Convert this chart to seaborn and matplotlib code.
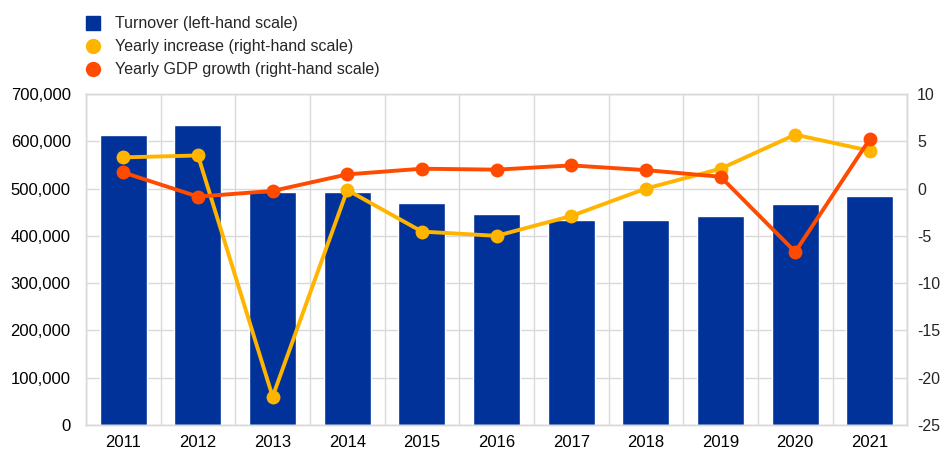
import matplotlib
matplotlib.use("Agg")
import matplotlib.pyplot as plt
import seaborn as sns
import numpy as np
import pandas as pd
from matplotlib.lines import Line2D
from matplotlib.ticker import FuncFormatter, FixedLocator

years = ["2011", "2012", "2013", "2014", "2015", "2016", "2017", "2018", "2019", "2020", "2021"]
turnover = [613000, 634000, 493000, 493000, 469000, 446000, 433000, 433000, 442000, 467000, 484000]
yearly_increase = [3.3, 3.5, -22.0, -0.15, -4.55, -5.0, -2.9, 0.0, 2.1, 5.7, 4.0]
gdp_growth = [1.7, -0.85, -0.25, 1.5, 2.1, 2.0, 2.45, 1.95, 1.25, -6.7, 5.25]

labels = ["Turnover (left-hand scale)", "Yearly increase (right-hand scale)",
          "Yearly GDP growth (right-hand scale)"]

BLUE = "#003299"
YELLOW = "#FFB400"
RED = "#FF4B00"
GRID = "#d9d9d9"

sns.set_style("white")
plt.rcParams["font.family"] = ["Liberation Sans", "DejaVu Sans"]
plt.rcParams["axes.unicode_minus"] = False

df = pd.DataFrame({"year": years, "turnover": turnover,
                   "inc": yearly_increase, "gdp": gdp_growth})

fig = plt.figure(figsize=(9.45, 4.5), dpi=100)
ax = fig.add_axes([0.091, 0.0556, 0.869, 0.7355])

sns.barplot(data=df, x="year", y="turnover", color=BLUE, saturation=1,
            width=0.63, ax=ax, zorder=2)
ax.set_axisbelow(True)
ax.set_ylim(0, 700000)
ax.set_yticks(np.arange(0, 700001, 100000))
ax.yaxis.set_major_formatter(FuncFormatter(lambda v, p: f"{int(v):,}"))
ax.set_xlim(-0.5, len(years) - 0.5)
ax.xaxis.set_minor_locator(FixedLocator(np.arange(-0.5, len(years), 1.0)))
ax.grid(axis="y", which="major", color=GRID, linewidth=1)
ax.grid(axis="x", which="minor", color=GRID, linewidth=1)
ax.grid(axis="x", which="major", visible=False)
ax.set_xlabel("")
ax.set_ylabel("")
ax.tick_params(axis="both", which="both", length=0, labelsize=12, colors="black")
ax.tick_params(axis="y", pad=11)
ax.tick_params(axis="x", pad=7)
for s in ax.spines.values():
    s.set_color(GRID)
    s.set_linewidth(1)

ax2 = ax.twinx()
x = np.arange(len(years))
sns.lineplot(x=x, y=df["inc"], color=YELLOW, linewidth=2.8, marker="o",
             markersize=10, markeredgewidth=0, ax=ax2)
sns.lineplot(x=x, y=df["gdp"], color=RED, linewidth=2.8, marker="o",
             markersize=10, markeredgewidth=0, ax=ax2)
ax2.set_ylim(-25, 10)
ax2.set_yticks(np.arange(-25, 11, 5))
ax2.set_ylabel("")
ax2.set_xlim(-0.5, len(years) - 0.5)
ax2.tick_params(axis="y", length=0, labelsize=11.5, pad=7)
ax2.grid(False)
for s in ax2.spines.values():
    s.set_color(GRID)
    s.set_linewidth(1)

handles = [
    Line2D([], [], linestyle="none", marker="s", markersize=10.5, color=BLUE),
    Line2D([], [], linestyle="none", marker="o", markersize=10, color=YELLOW),
    Line2D([], [], linestyle="none", marker="o", markersize=10, color=RED),
]
fig.legend(handles, labels, loc="upper left", bbox_to_anchor=(0.082, 0.978),
           frameon=False, fontsize=11.5, handletextpad=0.75, labelspacing=0.5,
           handlelength=1.2, borderaxespad=0)

fig.savefig("out.png", dpi=100)
